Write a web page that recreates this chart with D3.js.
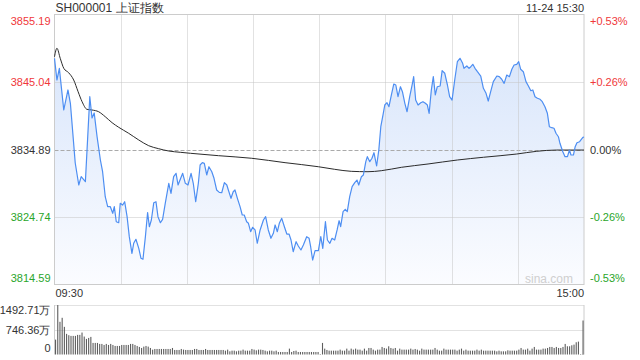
<!DOCTYPE html>
<html>
<head>
<meta charset="utf-8">
<script src="https://cdn.jsdelivr.net/npm/d3@7"></script>
<style>
  body { margin: 0; background: #fff; }
  text { font-family: "Liberation Sans", Arial, sans-serif; }
</style>
</head>
<body>
<div id="chart"></div>
<script>
// price ticks (left) and percent ticks (right)
const priceTicks = [3855.19, 3845.04, 3834.89, 3824.74, 3814.59];
const pctTicks = ["+0.53%", "+0.26%", "0.00%", "-0.26%", "-0.53%"];
const prevClose = 3834.89;
const volTicks = [1492.71, 746.36, 0];
const volLabels = ["1492.71万", "746.36万", "0"];
const timeGrid = [30, 60, 90, 120, 150, 180, 210];

// [minute, price]
const priceTrace = [
  [0,3848.60],[1.1,3845.34],[2.2,3847.10],[4.2,3840.83],[6.1,3843.84],[7.2,3841.84],[9.4,3832.86],
  [11,3829.55],[12.1,3830.80],[14,3830.05],[16,3842.83],[17,3839.63],[18,3840.38],[19.3,3836.81],
  [20.8,3833.31],[21.8,3831.55],[23,3827.79],[24.1,3826.29],[25.3,3826.29],[26.4,3825.30],[27.1,3826.29],
  [28,3824.03],[29.1,3823.88],[29.8,3826.80],[30.9,3826.54],[31.8,3827.04],[32.9,3824.79],[33.9,3821.78],
  [35.1,3819.28],[35.9,3820.79],[36.9,3821.39],[38.2,3820.03],[39.2,3818.53],[40.1,3818.38],[41.2,3821.78],
  [42.2,3825.39],[43,3823.28],[43.9,3824.29],[45,3826.89],[46,3827.04],[46.9,3824.79],[48,3823.88],
  [49,3824.39],[50.2,3826.80],[51.8,3829.81],[52.8,3828.30],[54,3830.80],[55.1,3831.31],[56,3829.55],
  [57.2,3830.56],[58.1,3831.31],[59.3,3829.81],[60.5,3829.55],[61.9,3831.31],[62.9,3829.81],[64,3827.04],
  [65.2,3829.81],[66,3832.56],[67,3832.91],[67.9,3832.81],[69,3831.06],[70,3832.30],[71.3,3831.55],
  [72.3,3830.56],[73.5,3828.80],[74.7,3828.45],[75.8,3828.39],[77,3829.90],[78.1,3829.55],[78.8,3828.80],
  [80,3827.55],[81,3828.54],[81.8,3828.80],[82.9,3827.55],[84.1,3826.29],[85.1,3825.04],[86,3825.04],
  [87.1,3824.03],[87.9,3823.79],[88.9,3822.53],[89.8,3823.19],[90.9,3822.79],[91.9,3820.79],[93.2,3822.79],
  [94.7,3824.29],[95.7,3824.79],[96.9,3822.79],[98.1,3821.54],[99.2,3822.29],[100,3823.54],[101,3822.53],
  [101.9,3823.79],[103,3824.54],[104.2,3823.28],[105.3,3822.18],[106.3,3822.18],[107.2,3821.28],[108.2,3819.52],
  [109.5,3821.03],[110.5,3820.38],[111.7,3819.78],[112.8,3820.53],[114.3,3821.78],[115.4,3821.54],[116.1,3820.27],
  [117,3818.27],[118.1,3819.67],[119.6,3819.67],[120.7,3821.78],[121.6,3820.03],[122.8,3824.03],[123.7,3821.28],
  [124.8,3820.79],[125.8,3821.54],[127,3821.28],[128.1,3822.79],[129,3824.18],[129.7,3823.28],[130.8,3825.54],
  [131.8,3825.90],[132.7,3825.54],[133.8,3827.79],[134.9,3829.30],[136.1,3829.90],[137.1,3830.30],[137.9,3829.55],
  [139.1,3830.80],[140,3831.06],[141.1,3833.06],[141.8,3833.81],[142.9,3833.06],[143.9,3833.57],[144.8,3834.41],
  [146,3832.41],[147,3834.81],[147.9,3838.32],[148.9,3840.08],[149.7,3841.58],[150.7,3841.93],[151.6,3841.33],
  [152.7,3843.09],[153.8,3844.74],[154.7,3844.59],[155.7,3842.83],[156.8,3844.33],[157.7,3843.58],[158.8,3841.84],
  [159.8,3840.57],[161,3842.83],[162.1,3844.59],[162.8,3845.84],[163.7,3842.33],[164.8,3841.58],[166,3841.93],
  [167,3842.08],[168.1,3841.84],[169,3841.58],[169.8,3840.33],[170.8,3843.84],[171.7,3845.84],[172.6,3843.09],
  [173.5,3844.33],[174.8,3844.44],[175.7,3846.74],[176.9,3846.35],[178.1,3844.59],[179.1,3842.83],[180.2,3842.33],
  [181.4,3845.34],[182.6,3848.09],[183.8,3848.60],[185,3847.85],[185.6,3847.10],[186.9,3847.45],[187.9,3847.10],
  [188.7,3847.34],[189.6,3847.70],[190.6,3847.10],[191.7,3846.59],[193.2,3845.94],[194.4,3844.09],[195.6,3843.34],
  [196.6,3842.18],[197.7,3843.58],[198.9,3845.09],[200.5,3845.94],[201.6,3845.84],[202.7,3845.45],[203.8,3844.84],
  [205,3846.09],[206.2,3845.84],[207.3,3846.95],[208.3,3847.60],[209.5,3847.70],[210.4,3848.09],[211.3,3846.95],
  [212.5,3846.59],[213.7,3845.09],[214.8,3844.44],[215.9,3843.73],[216.8,3843.84],[217.8,3842.83],[218.9,3842.59],
  [220.1,3842.44],[221.1,3842.08],[222.3,3841.33],[223.4,3840.33],[224.3,3838.32],[225.4,3838.17],[226.4,3838.08],
  [227.3,3837.33],[228.4,3836.81],[229.1,3835.82],[230.4,3834.56],[231.4,3833.81],[232.5,3833.81],[233.4,3834.81],
  [234.1,3834.06],[235.2,3834.06],[236,3835.31],[236.8,3835.91],[238,3836.06],[239.5,3836.72],[240,3836.77]
];

// [minute, average price]
const avgTrace = [
  [0,3848.84],[1.1,3850.11],[2.6,3848.60],[4.2,3847.10],[6.4,3846.44],[8.7,3845.34],[10.7,3843.58],
  [12.5,3842.08],[14.7,3840.93],[17,3840.83],[20,3840.57],[23,3839.82],[26.1,3838.92],[29.1,3838.23],
  [33.6,3837.33],[38.2,3836.32],[42.7,3835.46],[47.2,3835.01],[51.8,3834.66],[57,3834.47],[61.6,3834.32],
  [74.3,3833.96],[89.4,3833.57],[104.5,3832.91],[119.6,3832.30],[127,3831.91],[134.5,3831.61],[142.1,3831.55],
  [148.1,3831.70],[157.2,3832.21],[169.3,3832.71],[182.6,3833.31],[194.4,3833.72],[209.5,3834.21],
  [218.6,3834.62],[227.6,3834.81],[240,3834.81]
];

// volume per minute (万)
const volume = [
  449,1492,986,1107,834,622,582,561,561,561,592,592,662,541,470,500,531,349,349,349,
  319,319,288,319,288,319,288,258,258,258,288,288,288,288,319,319,288,258,228,197,
  238,258,238,197,146,167,167,167,167,167,167,167,167,197,137,137,137,167,147,137,
  137,137,137,167,167,137,137,137,167,137,137,137,137,137,137,137,137,116,147,96,
  116,116,96,116,116,147,116,116,116,167,147,126,147,147,137,116,96,116,116,96,
  116,76,76,76,76,76,177,76,106,116,76,76,76,76,76,76,76,76,76,76,
  15,349,177,137,116,116,116,116,116,147,116,116,177,116,177,147,177,147,147,116,
  177,116,197,197,147,116,147,147,228,197,177,248,197,177,197,116,177,147,147,147,
  147,177,147,167,147,116,177,147,147,147,147,147,197,147,116,116,177,147,147,147,
  147,147,116,147,177,116,147,116,116,116,116,147,116,147,116,116,116,116,116,116,
  96,116,96,96,96,126,116,116,116,116,147,197,147,147,177,116,177,228,147,147,
  147,177,177,197,228,228,197,228,197,197,228,319,248,248,278,298,369,389,15,8,
  1025
];

const W = 640, H = 360;
const left = 54.5, right = 584;
const red = '#f0383a', green = '#2aa52a', dark = '#333';

const svg = d3.select('#chart')
  .append('svg')
  .attr('width', W)
  .attr('height', H);

// scales
const x = d3.scaleLinear().domain([0, 240]).range([left, right]);
const y = d3.scaleLinear().domain([3814.59, 3855.19]).range([284.5, 14.5]);
const yVol = d3.scaleLinear().domain([0, 1492.71]).range([354.5, 305]);

const defs = svg.append('defs');
const grad = defs.append('linearGradient')
  .attr('id', 'fillGrad')
  .attr('gradientUnits', 'userSpaceOnUse')
  .attr('x1', 0).attr('y1', y.range()[1])
  .attr('x2', 0).attr('y2', y.range()[0]);
grad.append('stop').attr('offset', '0%').attr('stop-color', '#d3e2fa');
grad.append('stop').attr('offset', '100%').attr('stop-color', '#fbfcff');

// area under price line
const area = d3.area()
  .x(d => x(d[0]))
  .y0(y.range()[0])
  .y1(d => y(d[1]));

svg.append('path')
  .datum(priceTrace)
  .attr('fill', 'url(#fillGrad)')
  .attr('d', area);

// grid lines
const grid = svg.append('g');
grid.selectAll('.hgrid')
  .data(priceTicks.slice(1, 4))
  .join('line')
  .attr('x1', left).attr('x2', right)
  .attr('y1', d => Math.round(y(d)) + 0.5)
  .attr('y2', d => Math.round(y(d)) + 0.5)
  .attr('stroke', d => d === prevClose ? '#aaa' : '#c4c4c4')
  .attr('stroke-dasharray', d => d === prevClose ? '4,2' : '1,1');

grid.selectAll('.vgrid')
  .data(timeGrid)
  .join('line')
  .attr('x1', d => Math.round(x(d)) + 0.5)
  .attr('x2', d => Math.round(x(d)) + 0.5)
  .attr('y1', y.range()[1]).attr('y2', y.range()[0])
  .attr('stroke', '#c4c4c4')
  .attr('stroke-dasharray', '1,1');

// frame
svg.append('rect')
  .attr('x', left).attr('y', 14.5)
  .attr('width', right - left).attr('height', 270)
  .attr('fill', 'none')
  .attr('stroke', '#ccc');

// avg line
svg.append('path')
  .datum(avgTrace)
  .attr('fill', 'none')
  .attr('stroke', '#2b2b2b')
  .attr('stroke-width', 1)
  .attr('d', d3.line().x(d => x(d[0])).y(d => y(d[1])).curve(d3.curveMonotoneX));

// price line
svg.append('path')
  .datum(priceTrace)
  .attr('fill', 'none')
  .attr('stroke', '#4d8ef2')
  .attr('stroke-width', 1.2)
  .attr('stroke-linejoin', 'round')
  .attr('d', d3.line().x(d => x(d[0])).y(d => y(d[1])));

// left price axis
const colorFor = (v) => v > prevClose ? red : (v < prevClose ? green : dark);
const leftAxis = svg.append('g')
  .attr('transform', `translate(${left},0)`)
  .call(d3.axisLeft(y).tickValues(priceTicks).tickSize(0).tickPadding(4).tickFormat(d3.format('.2f')));
leftAxis.select('.domain').remove();
leftAxis.selectAll('text')
  .style('font-size', '11px')
  .attr('fill', d => colorFor(d))
  .attr('dy', (d, i) => i === 0 ? '0.95em' : (i === priceTicks.length - 1 ? '-0.25em' : '0.32em'));

// right percent axis
const rightAxis = svg.append('g')
  .attr('transform', `translate(${right},0)`)
  .call(d3.axisRight(y).tickValues(priceTicks).tickSize(0).tickPadding(6)
    .tickFormat((d, i) => pctTicks[i]));
rightAxis.select('.domain').remove();
rightAxis.selectAll('text')
  .style('font-size', '11px')
  .attr('fill', d => colorFor(d))
  .attr('dy', (d, i) => i === 0 ? '0.95em' : (i === priceTicks.length - 1 ? '-0.25em' : '0.32em'));

// title and time
svg.append('text')
  .attr('x', left + 1).attr('y', 12)
  .attr('fill', dark)
  .style('font-size', '12px')
  .text('SH000001 上证指数');

svg.append('text')
  .attr('x', right).attr('y', 12)
  .attr('text-anchor', 'end')
  .attr('fill', dark)
  .style('font-size', '11px')
  .text('11-24 15:30');

svg.append('text')
  .attr('x', left + 1).attr('y', 297)
  .attr('fill', dark)
  .style('font-size', '11px')
  .text('09:30');

svg.append('text')
  .attr('x', right).attr('y', 297)
  .attr('text-anchor', 'end')
  .attr('fill', dark)
  .style('font-size', '11px')
  .text('15:00');

svg.append('text')
  .attr('x', 573).attr('y', 283)
  .attr('text-anchor', 'end')
  .attr('fill', '#cfcfcf')
  .style('font-size', '12px')
  .text('sina.com');

// volume panel
svg.selectAll('.vgridline')
  .data(volTicks.slice(0, 2))
  .join('line')
  .attr('x1', left).attr('x2', right)
  .attr('y1', d => Math.round(yVol(d)) + 0.5)
  .attr('y2', d => Math.round(yVol(d)) + 0.5)
  .attr('stroke', '#c4c4c4')
  .attr('stroke-dasharray', '1,1');

svg.append('line')
  .attr('x1', left).attr('x2', left)
  .attr('y1', yVol.range()[1]).attr('y2', yVol.range()[0])
  .attr('stroke', '#ccc');
svg.append('line')
  .attr('x1', right).attr('x2', right)
  .attr('y1', yVol.range()[1]).attr('y2', yVol.range()[0])
  .attr('stroke', '#ccc');

svg.append('g')
  .selectAll('rect')
  .data(volume)
  .join('rect')
  .attr('x', (d, i) => Math.min(x(i) + 0.5, right - 1.5))
  .attr('y', d => yVol(d))
  .attr('width', 1.1)
  .attr('height', d => yVol(0) - yVol(d))
  .attr('fill', '#5e5e5e');

const volAxis = svg.append('g')
  .attr('transform', `translate(${left},0)`)
  .call(d3.axisLeft(yVol).tickValues(volTicks).tickSize(0).tickPadding(4)
    .tickFormat((d, i) => volLabels[i]));
volAxis.select('.domain').remove();
volAxis.selectAll('text')
  .style('font-size', '11px')
  .attr('fill', dark)
  .attr('dy', (d, i) => i === 0 ? '0.75em' : (i === 2 ? '-0.25em' : '0.32em'));
</script>
</body>
</html>
